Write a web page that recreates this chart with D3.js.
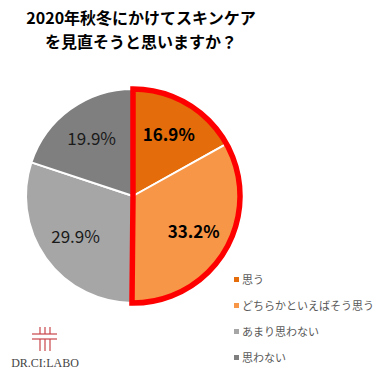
<!DOCTYPE html>
<html>
<head>
<meta charset="utf-8">
<script src="https://cdn.jsdelivr.net/npm/d3@7"></script>
<style>
  body { margin: 0; background: #fff; }
  svg { display: block; font-family: "Noto Sans CJK JP", "Noto Sans", sans-serif; }
</style>
</head>
<body>
<svg id="chart"></svg>
<script>
/* données */
const categories = ['思う', 'どちらかといえばそう思う', 'あまり思わない', '思わない']
const values = [16.9, 33.2, 29.9, 19.9]
const colors = ['#E46C0A', '#F79646', '#A6A6A6', '#7F7F7F']
const boldLabel = [true, true, false, false]
const titleLines = ['2020年秋冬にかけてスキンケア', 'を見直そうと思いますか？']

const width = 379, height = 377
const cx = 133, cy = 196, radius = 107

const svg = d3.select('#chart').attr('width', width).attr('height', height)

/* titre */
svg.append('g').selectAll('text')
  .data(titleLines)
  .enter().append('text')
  .attr('x', 141)
  .attr('y', (d, i) => 24 + i * 24)
  .attr('text-anchor', 'middle')
  .style('font-size', '16px')
  .style('font-weight', 'bold')
  .attr('fill', '#000')
  .text(d => d)

/* camembert */
const pie = d3.pie().sort(null).value(d => d)
const arcs = pie(values)
const arc = d3.arc().innerRadius(0).outerRadius(radius)
const labelArc = d3.arc().innerRadius(radius * 0.66).outerRadius(radius * 0.66)

const g = svg.append('g').attr('transform', `translate(${cx},${cy})`)

g.selectAll('path.slice')
  .data(arcs)
  .enter().append('path')
  .attr('class', 'slice')
  .attr('d', arc)
  .attr('fill', (d, i) => colors[i])
  .attr('stroke', '#fff')
  .attr('stroke-width', 2)

// contour rouge autour des deux premières parts
const highlight = {startAngle: arcs[0].startAngle, endAngle: arcs[1].endAngle}
g.append('path')
  .attr('d', arc(highlight))
  .attr('fill', 'none')
  .attr('stroke', '#FF0000')
  .attr('stroke-width', 5.5)
  .attr('stroke-linejoin', 'miter')

g.selectAll('text.lbl')
  .data(arcs)
  .enter().append('text')
  .attr('class', 'lbl')
  .attr('transform', d => `translate(${labelArc.centroid(d)})`)
  .attr('text-anchor', 'middle')
  .attr('dy', '0.35em')
  .style('font-size', '17px')
  .style('font-weight', (d, i) => boldLabel[i] ? 'bold' : 'normal')
  .attr('fill', (d, i) => boldLabel[i] ? '#000' : '#1a1a1a')
  .text(d => d.data.toFixed(1) + '%')

/* légende */
const legend = svg.append('g').attr('transform', 'translate(234,280)')
const rows = legend.selectAll('g')
  .data(categories)
  .enter().append('g')
  .attr('transform', (d, i) => `translate(0,${i * 26})`)

rows.append('rect')
  .attr('x', 0).attr('y', -3)
  .attr('width', 5).attr('height', 5)
  .attr('fill', (d, i) => colors[i])

rows.append('text')
  .attr('x', 8)
  .attr('y', 0)
  .attr('dy', '0.35em')
  .style('font-size', '11px')
  .attr('fill', '#595959')
  .text(d => d)

/* logo */
const logo = svg.append('g').attr('transform', 'translate(45,336)').attr('stroke', '#C8454A').attr('stroke-width', 1.2)
;[-5, 0, 5].forEach(x => {
  logo.append('line').attr('x1', x).attr('x2', x).attr('y1', -9).attr('y2', -2)
  logo.append('line').attr('x1', x).attr('x2', x).attr('y1', 3).attr('y2', 15)
})
;[-2, 3].forEach(y => {
  logo.append('line').attr('x1', -13).attr('x2', 12).attr('y1', y).attr('y2', y)
})
svg.append('text')
  .attr('x', 45).attr('y', 367)
  .attr('text-anchor', 'middle')
  .style('font-family', '"Liberation Serif", serif')
  .style('font-size', '12px')
  .attr('fill', '#444')
  .text('DR.CI:LABO')
</script>
</body>
</html>
